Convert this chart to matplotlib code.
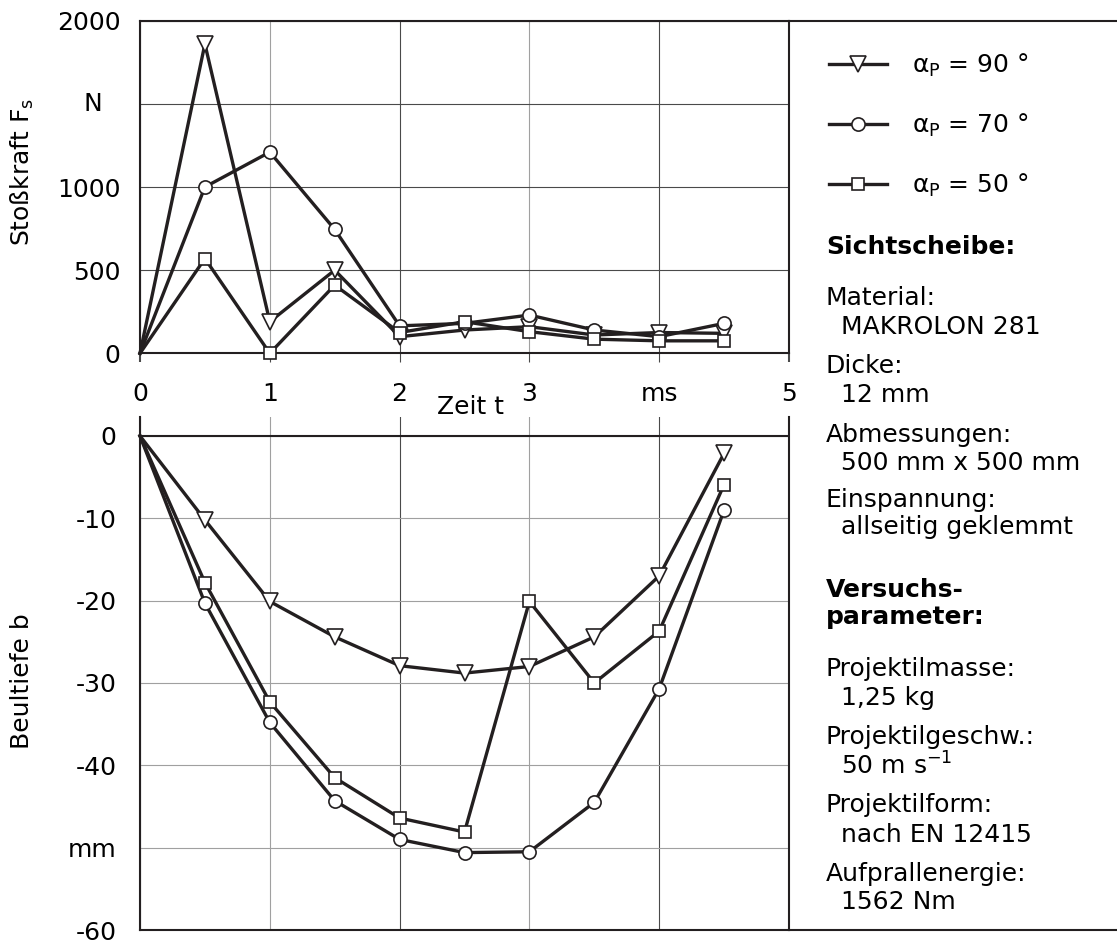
import matplotlib
matplotlib.use("Agg")
import matplotlib.pyplot as plt
from matplotlib.lines import Line2D

plt.rcParams["font.family"] = ["DejaVu Sans"]
plt.rcParams["mathtext.fontset"] = "dejavusans"
plt.rcParams["font.size"] = 18

# ---- data -------------------------------------------------------------
t_ms = [0, 0.5, 1.0, 1.5, 2.0, 2.5, 3.0, 3.5, 4.0, 4.5]

force_90 = [0, 1860, 190, 500, 100, 140, 160, 110, 125, 120]
force_70 = [0, 1000, 1210, 745, 165, 180, 230, 140, 100, 180]
force_50 = [0, 570, 0, 410, 125, 190, 130, 85, 75, 75]

depth_90 = [0, -10.2, -20.1, -24.4, -27.9, -28.8, -28.0, -24.4, -17.0, -2.1]
depth_70 = [0, -20.3, -34.8, -44.3, -49.0, -50.6, -50.5, -44.5, -30.7, -9.0]
depth_50 = [0, -17.8, -32.3, -41.5, -46.4, -48.1, -20.1, -30.0, -23.7, -5.9]

series_labels = [r"α$_{\mathrm{P}}$ = 90 °", r"α$_{\mathrm{P}}$ = 70 °", r"α$_{\mathrm{P}}$ = 50 °"]

x_ticks = [0, 1, 2, 3, 4, 5]
x_ticklabels = ["0", "1", "2", "3", "ms", "5"]
f_ticks = [0, 500, 1000, 1500, 2000]
f_ticklabels = ["0", "500", "1000", "", "2000"]
b_ticks = [0, -10, -20, -30, -40, -50, -60]
b_ticklabels = ["0", "-10", "-20", "-30", "-40", "mm", "-60"]

panel_lines = [
    ("Sichtscheibe:", 0, 254, True),
    ("Material:", 0, 305, False),
    ("MAKROLON 281", 1, 334, False),
    ("Dicke:", 0, 373, False),
    ("12 mm", 1, 402, False),
    ("Abmessungen:", 0, 442, False),
    ("500 mm x 500 mm", 1, 470, False),
    ("Einspannung:", 0, 507, False),
    ("allseitig geklemmt", 1, 534, False),
    ("Versuchs-", 0, 597, True),
    ("parameter:", 0, 624, True),
    ("Projektilmasse:", 0, 676, False),
    ("1,25 kg", 1, 705, False),
    ("Projektilgeschw.:", 0, 744, False),
    (r"50 m s$^{\mathrm{-1}}$", 1, 775, False),
    ("Projektilform:", 0, 812, False),
    ("nach EN 12415", 1, 842, False),
    ("Aufprallenergie:", 0, 881, False),
    ("1562 Nm", 1, 909, False),
]

# ---- layout helpers (pixel -> figure fraction) -------------------------
W, H = 1117, 947
def fx(px):
    return px / W
def fy(py):
    return 1 - py / H

INK = "#231f20"
DARK_GRID = "#4a4a4a"
LIGHT_GRID = "#a0a0a0"
SPINE_LW = 1.5

fig = plt.figure(figsize=(W / 100, H / 100), dpi=100)
fig.patch.set_facecolor("white")

L, R = 140, 789
ax1 = fig.add_axes([fx(L), fy(353.3), (R - L) / W, (353.3 - 20.7) / H])
ax2 = fig.add_axes([fx(L), fy(930), (R - L) / W, (930 - 417) / H])

styles = [
    dict(marker="v", markersize=11.5),
    dict(marker="o", markersize=9.5),
    dict(marker="s", markersize=9.0),
]
common = dict(color=INK, lw=2.4, markerfacecolor="white", markeredgecolor=INK,
              markeredgewidth=1.2, solid_joinstyle="miter", clip_on=False,
              markevery=slice(1, None), zorder=3)

handles = []
for ys, st, lab in zip([force_90, force_70, force_50], styles, series_labels):
    h, = ax1.plot(t_ms, ys, label=lab, **st, **common)
    handles.append(h)
for ys, st in zip([depth_90, depth_70, depth_50], styles):
    ax2.plot(t_ms, ys, **st, **common)

# ---- upper axes: impact force -----------------------------------------
ax1.set_xlim(0, 5)
ax1.set_ylim(0, 2000)
ax1.set_xticks(x_ticks)
ax1.set_xticklabels(x_ticklabels)
ax1.set_yticks(f_ticks)
ax1.set_yticklabels(f_ticklabels)
ax1.tick_params(axis="x", direction="out", length=6.5, width=0.8, color=DARK_GRID, pad=14)
ax1.tick_params(axis="y", length=0, pad=14)

# ---- lower axes: deflection -------------------------------------------
ax2.set_xlim(0, 5)
ax2.set_ylim(-60, 2.3)
ax2.set_xticks(x_ticks)
ax2.set_xticklabels([])
ax2.set_yticks(b_ticks)
ax2.set_yticklabels(b_ticklabels)
ax2.tick_params(axis="x", length=0)
ax2.tick_params(axis="y", length=0, pad=17)
ax2.axhline(0, color=INK, lw=SPINE_LW, zorder=2)

for ax, ycol in ((ax1, DARK_GRID), (ax2, LIGHT_GRID)):
    ax.grid(True, lw=0.8)
    ax.set_axisbelow(True)
    for i, gl in enumerate(ax.get_xgridlines()):
        gl.set_color(LIGHT_GRID if i % 2 == 1 else DARK_GRID)
    for gl in ax.get_ygridlines():
        gl.set_color(ycol)
    for sp in ax.spines.values():
        sp.set_linewidth(SPINE_LW)
        sp.set_color(INK)
ax2.spines["top"].set_visible(False)

# the outer ticks at 0 and 5 continue the frame lines
for idx in (0, 5):
    tk = ax1.xaxis.get_major_ticks()[idx]
    tk.tick1line.set_markeredgewidth(SPINE_LW)
    tk.tick1line.set_color(INK)

# ---- axis titles ---------------------------------------------------------
fig.text(fx(22), fy(172), r"Stoßkraft F$_{\mathrm{s}}$", rotation=90, ha="center", va="center")
fig.text(fx(93), fy(104), "N", ha="center", va="center")
fig.text(fx(470), fy(395), "Zeit t", ha="center", va="top")
fig.text(fx(22), fy(681), "Beultiefe b", rotation=90, ha="center", va="center")

# ---- frame extending to the right-hand panel ---------------------------
fig.add_artist(Line2D([fx(R), 1], [fy(20.7)] * 2, color=INK, lw=SPINE_LW))
fig.add_artist(Line2D([fx(R), 1], [fy(930)] * 2, color=INK, lw=SPINE_LW))

# ---- legend and description panel -------------------------------------
fig.legend(handles=handles, loc="upper left", bbox_to_anchor=(fx(829), fy(52)),
           frameon=False, borderpad=0, borderaxespad=0, handlelength=2.3,
           handletextpad=1.0, labelspacing=1.3, numpoints=1, fontsize=18)

for text, indent, base, bold in panel_lines:
    fig.text(fx(841 if indent else 826), fy(base), text, ha="left", va="baseline",
             fontweight="bold" if bold else "normal")

fig.savefig("out.png", dpi=100, facecolor="white")
